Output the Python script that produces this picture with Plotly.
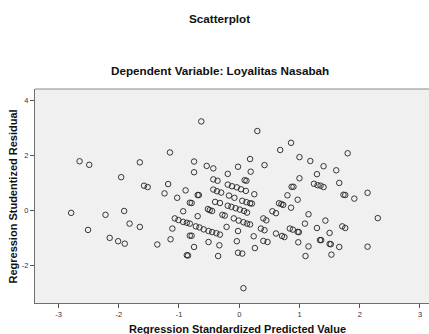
import plotly.graph_objects as go

# Regression Standardized Predicted Value (x) and Regression Studentized Residual (y)
pred = [
    -2.65, -2.49, -1.65, -1.96, -1.58, -1.52, -1.18, -1.24, -1.15, -2.79,
    -2.51, -2.22, -1.91, -1.82, -1.65, -2.15, -2.01, -1.90, -1.36, -1.11,
    -1.14, -0.63, -0.75, -0.75, -0.54, -0.43, -0.19, -0.89, -1.03, -0.69,
    -0.67, -0.43, -0.36, -0.43, -0.37, -0.30, -0.19, -0.12, -0.04, 0.03,
    0.11, 0.09, 0.12, 0.25, -0.17, -0.08, -0.40, -0.32, -0.82, -0.79,
    0.05, 0.12, 0.18, 0.21, -0.19, -0.13, -0.06, 0.01, 0.08, 0.13,
    -0.52, -0.49, -0.45, -0.28, -0.24, -0.93, -0.69, -1.07, -1.01, -0.93,
    -0.87, -0.82, -0.82, -0.79, -0.72, -0.66, -0.59, -0.51, -0.45, -0.38,
    -0.32, -0.75, -0.87, -0.85, -0.51, -0.33, -0.35, -0.21, -0.09, -0.01,
    0.07, 0.13, 0.18, -0.02, -0.04, -0.02, 0.05, 0.07, 0.24, 0.26,
    -0.02, 0.18, 0.19, 0.42, 0.30, 0.68, 0.86, 1.00, 0.87, 0.90,
    0.80, 1.00, 0.97, 0.66, 0.70, 0.73, 0.86, 0.55, 0.61, 0.36,
    0.42, 0.40, 0.45, 0.40, 0.47, 0.61, 0.71, 0.75, 0.84, 0.89,
    0.97, 0.99, 0.98, 1.18, 1.80, 1.40, 1.61, 1.29, 1.24, 1.30,
    1.35, 1.40, 1.66, 1.73, 1.76, 1.91, 2.13, 1.15, 1.09, 1.15,
    1.10, 1.29, 1.43, 1.50, 1.34, 1.36, 1.50, 1.52, 1.53, 1.66,
    1.71, 1.76, 2.30, 2.13,
]
resid = [
    1.80, 1.67, 1.76, 1.22, 0.91, 0.86, 0.97, 0.63, 2.12, -0.08,
    -0.70, -0.15, -0.01, -0.47, -0.59, -0.99, -1.11, -1.20, -1.23, -0.65,
    -1.04, 3.25, 1.79, 1.40, 1.63, 1.54, 1.34, 0.74, 0.47, 0.57,
    0.57, 1.14, 1.09, 0.77, 0.71, 0.66, 0.95, 0.89, 0.85, 0.78,
    0.72, 1.11, 1.09, 0.60, 0.55, 0.47, 0.32, 0.28, 0.29, 0.28,
    0.36, 0.31, 0.27, 0.26, 0.18, 0.14, 0.09, 0.04, -0.01, -0.07,
    0.06, 0.02, -0.01, -0.15, -0.18, -0.02, -0.20, -0.28, -0.34, -0.41,
    -0.44, -0.47, -0.91, -0.91, -0.57, -0.61, -0.68, -0.74, -0.78, -0.82,
    -0.87, -1.32, -1.62, -1.63, -1.14, -1.26, -1.65, -0.59, -0.28, -0.36,
    -0.42, -0.47, -0.50, -0.74, -1.11, -1.53, -1.56, -2.82, -0.93, -1.36,
    1.60, 1.88, 1.42, 1.66, 2.90, 2.21, 2.47, 1.95, 0.87, 0.87,
    0.56, 1.18, 0.40, 0.27, 0.24, 0.21, 0.11, -0.02, -0.09, -0.65,
    -0.71, -0.28, -0.35, -1.10, -1.14, -0.83, -0.92, -0.96, -0.65, -0.69,
    -0.77, -0.78, -1.15, 1.81, 2.09, 1.62, 1.47, 1.33, 0.98, 0.93,
    0.91, 0.86, 1.01, 0.58, 0.57, 0.44, 0.65, -0.13, -0.47, -1.30,
    -1.65, -0.63, -0.36, -0.81, -1.07, -1.07, -1.21, -1.22, -1.60, -1.32,
    -0.57, -0.63, -0.27, -1.31,
]

x_ticks = [-3, -2, -1, 0, 1, 2, 3]
y_ticks = [-2, 0, 2, 4]

title_text = "Scatterplot"
subtitle_text = "Dependent Variable: Loyalitas Nasabah"
x_title = "Regression Standardized Predicted Value"
y_title = "Regression Studentized Residual"

FONT = "Liberation Sans, Arial, sans-serif"

fig = go.Figure()
fig.add_trace(go.Scatter(
    x=pred, y=resid, mode="markers",
    marker=dict(symbol="circle-open", size=5.5, color="rgba(35,35,35,0.9)",
                line=dict(width=1, color="rgba(35,35,35,0.9)")),
    hoverinfo="skip", showlegend=False,
))

axis_common = dict(
    showgrid=False, zeroline=False, showline=True, linecolor="#6e6e6e",
    linewidth=1, ticks="outside", ticklen=4, tickcolor="#555555",
    tickfont=dict(family=FONT, size=7.5, color="#333333"),
)

fig.update_layout(
    width=429, height=334,
    margin=dict(l=35, r=0, t=89, b=31),
    paper_bgcolor="white", plot_bgcolor="#f0f0f0",
    xaxis=dict(range=[-3.39, 3.15], tickvals=x_ticks, ticktext=[str(v) for v in x_ticks],
               **axis_common),
    yaxis=dict(range=[-3.36, 4.43], tickvals=y_ticks, ticktext=[str(v) for v in y_ticks],
               **axis_common),
    shapes=[dict(type="line", xref="paper", yref="paper", x0=0, x1=1, y0=1, y1=1,
                 line=dict(color="#8a8a8a", width=1))],
    annotations=[
        dict(text="<b>" + title_text + "</b>", xref="paper", yref="paper",
             x=0.4695, y=1.328, xanchor="center", yanchor="middle", showarrow=False,
             font=dict(family=FONT, size=11.7, color="#111111")),
        dict(text="<b>" + subtitle_text + "</b>", xref="paper", yref="paper",
             x=0.4695, y=1.086, xanchor="center", yanchor="middle", showarrow=False,
             font=dict(family=FONT, size=11.7, color="#111111")),
        dict(text="<b>" + x_title + "</b>", xref="paper", yref="paper",
             x=0.5147, y=-0.12, xanchor="center", yanchor="middle", showarrow=False,
             font=dict(family=FONT, size=11, color="#111111")),
        dict(text="<b>" + y_title + "</b>", xref="paper", yref="paper",
             x=-0.055, y=0.499, xanchor="center", yanchor="middle", showarrow=False,
             textangle=-90, font=dict(family=FONT, size=11, color="#111111")),
    ],
)

fig.write_html("out.html", config={"displayModeBar": False},
               post_script="document.body.style.margin='0';")
